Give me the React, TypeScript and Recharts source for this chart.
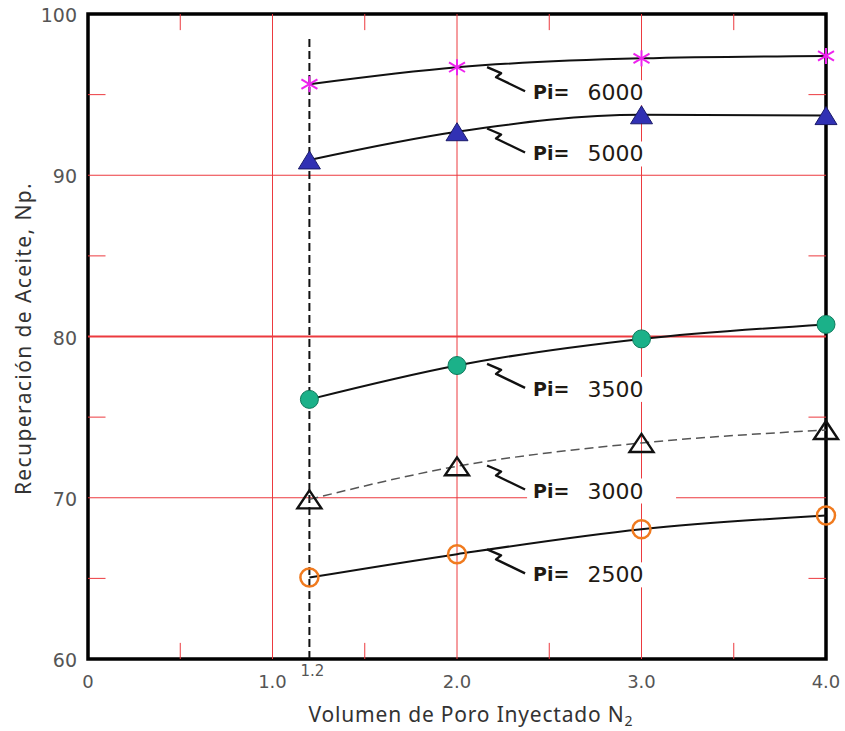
import React from "react";
import {
  LineChart,
  Line,
  XAxis,
  YAxis,
  ReferenceLine,
  ReferenceArea,
  ReferenceDot,
} from "recharts";

// ---- data ----
const injected = [1.2, 2.0, 3.0, 4.0];
const pi6000 = [95.65, 96.7, 97.25, 97.4];
const pi5000 = [90.95, 92.7, 93.75, 93.7];
const pi3500 = [76.1, 78.2, 79.85, 80.75];
const pi3000 = [69.9, 71.95, 73.4, 74.2];
const pi2500 = [65.05, 66.5, 68.05, 68.9];

const xTicks = [0, 1, 1.2, 2, 3, 4];
const xTickLabels = ["0", "1.0", "1.2", "2.0", "3.0", "4.0"];
const yTicks = [60, 70, 80, 90, 100];
const xGrid = [1, 2, 3];
const yGrid = [70, 80, 90];
const xMinor = [0.5, 1.5, 2.5, 3.5];
const yMinor = [65, 75, 85, 95];

const piLabels = ["6000", "5000", "3500", "3000", "2500"];
const leaderX = 2.163;
const leaderY = [96.7, 92.9, 78.3, 72.0, 66.8];
const cutoffX = 1.2;
const cutoffTop = 98.7;

const xTitle = "Volumen de Poro Inyectado N";
const xTitleSub = "2";
const yTitle = "Recuperación de Aceite, Np.";

const rows = injected.map((x, i) => ({
  x,
  p6000: pi6000[i],
  p5000: pi5000[i],
  p3500: pi3500[i],
  p3000: pi3000[i],
  p2500: pi2500[i],
}));

const RED = "#ec3a3f";
const TICK_FONT = "DejaVu Sans, Verdana, sans-serif";
const TITLE_FONT = "Noto Sans, Open Sans, sans-serif";

const StarDot = (p: any) => {
  const { cx, cy, index } = p;
  if (cx == null || cy == null) return <g key={`s${index}`} />;
  const r = 8;
  const c = "#ee22ee";
  return (
    <g key={`s${index}`}>
      <line x1={cx - r} y1={cy - r * 0.6} x2={cx + r} y2={cy + r * 0.6} stroke={c} strokeWidth={2} />
      <line x1={cx - r} y1={cy + r * 0.6} x2={cx + r} y2={cy - r * 0.6} stroke={c} strokeWidth={2} />
      <line x1={cx} y1={cy - r} x2={cx} y2={cy + r} stroke={c} strokeWidth={2} />
    </g>
  );
};

const FilledTri = (p: any) => {
  const { cx, cy, index } = p;
  if (cx == null || cy == null) return <g key={`t${index}`} />;
  const w = 11;
  const h = 9;
  return (
    <path
      key={`t${index}`}
      d={`M${cx},${cy - h} L${cx + w},${cy + h} L${cx - w},${cy + h} Z`}
      fill="#3131b4"
      stroke="#1b1b6a"
      strokeWidth={1}
    />
  );
};

const GreenDot = (p: any) => {
  const { cx, cy, index } = p;
  if (cx == null || cy == null) return <g key={`g${index}`} />;
  return <circle key={`g${index}`} cx={cx} cy={cy} r={9} fill="#1bb189" stroke="#0f7a5c" strokeWidth={1} />;
};

const OpenTri = (p: any) => {
  const { cx, cy, index } = p;
  if (cx == null || cy == null) return <g key={`o${index}`} />;
  const w = 12;
  const h = 9;
  return (
    <path
      key={`o${index}`}
      d={`M${cx},${cy - h} L${cx + w},${cy + h} L${cx - w},${cy + h} Z`}
      fill="none"
      stroke="#111"
      strokeWidth={2.4}
      strokeLinejoin="miter"
    />
  );
};

const OrangeRing = (p: any) => {
  const { cx, cy, index } = p;
  if (cx == null || cy == null) return <g key={`r${index}`} />;
  return <circle key={`r${index}`} cx={cx} cy={cy} r={9} fill="none" stroke="#f07a1e" strokeWidth={2.5} />;
};

const makeNote = (value: string) => (p: any) => {
  const { cx, cy } = p;
  if (cx == null || cy == null) return <g />;
  return (
    <g>
      <rect x={cx + 40} y={cy + 13} width={149} height={25} fill="#fff" />
      <polyline
        points={`${cx},${cy} ${cx + 14},${cy + 6} ${cx + 9},${cy + 10} ${cx + 38},${cy + 24}`}
        fill="none"
        stroke="#111"
        strokeWidth={2.4}
        strokeLinejoin="round"
      />
      <text x={cx + 46} y={cy + 25} dominantBaseline="central" fontFamily={TICK_FONT} fill="#1f1a14">
        <tspan fontWeight="bold" fontSize={19}>Pi=</tspan>
        <tspan dx={18} fontSize={22}>{value}</tspan>
      </text>
    </g>
  );
};

const XTick = (p: any) => {
  const { x, y, payload, index } = p;
  const i = xTicks.indexOf(payload.value);
  const label = i >= 0 ? xTickLabels[i] : String(payload.value);
  const small = payload.value === 1.2;
  return (
    <text
      key={`xt${index}`}
      x={small ? x + 3 : x}
      y={small ? y + 12 : y + 22}
      textAnchor="middle"
      dominantBaseline="central"
      fontFamily={TICK_FONT}
      fontSize={small ? 15 : 18}
      fill="#555"
    >
      {label}
    </text>
  );
};

const YTick = (p: any) => {
  const { x, y, payload, index } = p;
  return (
    <text
      key={`yt${index}`}
      x={x}
      y={y + 1}
      textAnchor="end"
      dominantBaseline="central"
      fontFamily={TICK_FONT}
      fontSize={19}
      fill="#555"
    >
      {payload.value}
    </text>
  );
};

const XTitle = (p: any) => {
  const vb = p.viewBox || {};
  const cx = vb.x + vb.width / 2 + 14;
  const cy = vb.y + 55;
  return (
    <text
      x={cx}
      y={cy}
      textAnchor="middle"
      dominantBaseline="central"
      fontFamily={TITLE_FONT}
      fontSize={21}
      letterSpacing={0.8}
      fill="#333"
    >
      <tspan>{xTitle}</tspan>
      <tspan fontSize={14} dy={6}>{xTitleSub}</tspan>
    </text>
  );
};

const YTitle = (p: any) => {
  const vb = p.viewBox || {};
  const cx = vb.x + 23;
  const cy = vb.y + vb.height / 2 + 2;
  return (
    <text
      x={cx}
      y={cy}
      textAnchor="middle"
      dominantBaseline="central"
      fontFamily={TITLE_FONT}
      fontSize={21}
      letterSpacing={1.4}
      fill="#333"
      transform={`rotate(-90 ${cx} ${cy})`}
    >
      {yTitle}
    </text>
  );
};

export default function App() {
  return (
    <div style={{ position: "absolute", left: 0, top: 0, background: "#fff" }}>
      <LineChart
        width={845}
        height={731}
        data={rows}
        margin={{ top: 14, right: 19, bottom: 0, left: 0 }}
      >
        <XAxis
          dataKey="x"
          type="number"
          domain={[0, 4]}
          ticks={xTicks}
          interval={0}
          height={72}
          tickSize={0}
          tickMargin={0}
          axisLine={false}
          tickLine={false}
          tick={XTick}
          label={{ content: XTitle }}
        />
        <YAxis
          type="number"
          domain={[60, 100]}
          ticks={yTicks}
          interval={0}
          width={88}
          tickSize={0}
          tickMargin={11}
          axisLine={false}
          tickLine={false}
          tick={YTick}
          label={{ content: YTitle }}
        />

        {xGrid.map((v) => (
          <ReferenceLine key={`xg${v}`} x={v} stroke={RED} strokeWidth={1} />
        ))}
        {yGrid.map((v) => (
          <ReferenceLine key={`yg${v}`} y={v} stroke={RED} strokeWidth={v === 80 ? 2 : 1.2} />
        ))}
        {xMinor.map((v) => (
          <ReferenceLine key={`xmb${v}`} segment={[{ x: v, y: 60 }, { x: v, y: 61 }]} stroke={RED} strokeWidth={1} />
        ))}
        {xMinor.map((v) => (
          <ReferenceLine key={`xmt${v}`} segment={[{ x: v, y: 100 }, { x: v, y: 99 }]} stroke={RED} strokeWidth={1} />
        ))}
        {yMinor.map((v) => (
          <ReferenceLine key={`yml${v}`} segment={[{ x: 0, y: v }, { x: 0.095, y: v }]} stroke={RED} strokeWidth={1} />
        ))}
        {yMinor.map((v) => (
          <ReferenceLine key={`ymr${v}`} segment={[{ x: 4, y: v }, { x: 3.905, y: v }]} stroke={RED} strokeWidth={1} />
        ))}

        {piLabels.map((lab, i) => (
          <ReferenceDot key={`note${lab}`} x={leaderX} y={leaderY[i]} r={1} shape={makeNote(lab)} />
        ))}

        <ReferenceLine
          segment={[{ x: cutoffX, y: 60 }, { x: cutoffX, y: cutoffTop }]}
          stroke="#111"
          strokeWidth={2}
          strokeDasharray="8 4"
        />

        <ReferenceArea x1={0} x2={4} y1={60} y2={100} fill="none" fillOpacity={0} stroke="#000" strokeWidth={3.5} />

        <Line dataKey="p6000" type="monotone" stroke="#111" strokeWidth={2} dot={StarDot} activeDot={false} isAnimationActive={false} />
        <Line dataKey="p5000" type="monotone" stroke="#111" strokeWidth={2} dot={FilledTri} activeDot={false} isAnimationActive={false} />
        <Line dataKey="p3500" type="monotone" stroke="#111" strokeWidth={2} dot={GreenDot} activeDot={false} isAnimationActive={false} />
        <Line dataKey="p3000" type="monotone" stroke="#555" strokeWidth={1.5} strokeDasharray="9 5" dot={OpenTri} activeDot={false} isAnimationActive={false} />
        <Line dataKey="p2500" type="monotone" stroke="#111" strokeWidth={2} dot={OrangeRing} activeDot={false} isAnimationActive={false} />
      </LineChart>
    </div>
  );
}
